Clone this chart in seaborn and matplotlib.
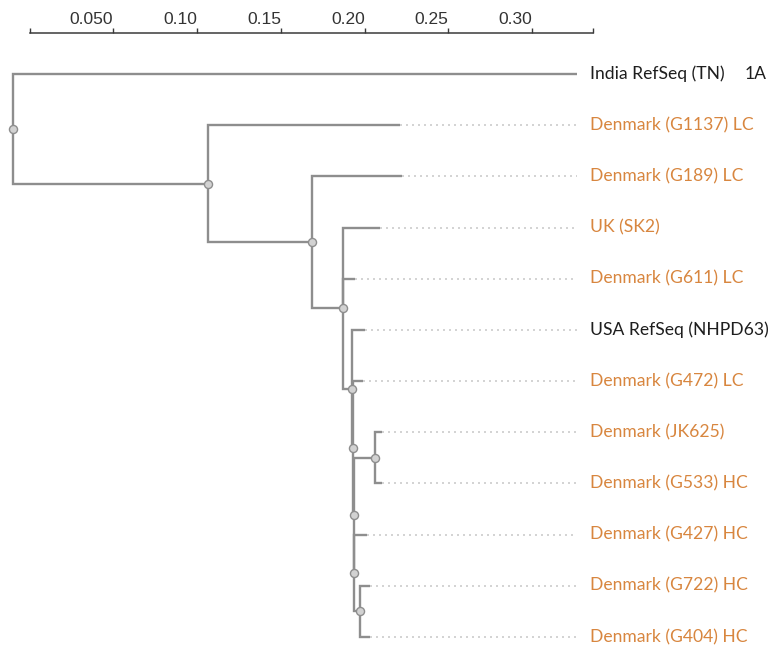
import matplotlib
matplotlib.use("Agg")
import matplotlib.pyplot as plt
import numpy as np
import pandas as pd
import seaborn as sns

# ---- tree data -------------------------------------------------------------
# Leaf order, top to bottom
leaves = [
    "India RefSeq (TN)", "Denmark (G1137) LC", "Denmark (G189) LC", "UK (SK2)",
    "Denmark (G611) LC", "USA RefSeq (NHPD63)", "Denmark (G472) LC",
    "Denmark (JK625)", "Denmark (G533) HC", "Denmark (G427) HC",
    "Denmark (G722) HC", "Denmark (G404) HC",
]
reference_seqs = ["India RefSeq (TN)", "USA RefSeq (NHPD63)"]
leaf_tags = {"India RefSeq (TN)": "1A"}

# Edges of the tree: parent -> child with branch length (substitutions/site)
parents = ["root", "root", "n2", "n2", "n3", "n3", "n4", "n4", "n4", "n5", "n5",
           "n6", "n6", "n8", "n8", "n7", "n7", "n9", "n9", "n10", "n10"]
children = ["India RefSeq (TN)", "n2", "Denmark (G1137) LC", "n3",
            "Denmark (G189) LC", "n4", "UK (SK2)", "Denmark (G611) LC", "n5",
            "USA RefSeq (NHPD63)", "n6", "Denmark (G472) LC", "n8", "n7", "n9",
            "Denmark (JK625)", "Denmark (G533) HC", "Denmark (G427) HC", "n10",
            "Denmark (G722) HC", "Denmark (G404) HC"]
lengths = [0.3362, 0.1164, 0.1144, 0.0617, 0.0537, 0.0189, 0.0216, 0.0070, 0.0050,
           0.0079, 0.0006, 0.0063, 0.0004, 0.0130, 0.0004, 0.0040, 0.0040, 0.0076,
           0.0032, 0.0064, 0.0064]

# Scale bar ticks
scale_ticks = [0.05, 0.10, 0.15, 0.20, 0.25, 0.30]
scale_labels = ["0.050", "0.10", "0.15", "0.20", "0.25", "0.30"]

# ---- style -----------------------------------------------------------------
sns.set_theme(style="white")
plt.rcParams["font.family"] = ["Lato", "DejaVu Sans"]

BRANCH = "#8e8e8e"
GUIDE = "#cccccc"
NODE_FILL = "#d2d2d2"
ORANGE = "#d8863f"
DARK = "#1e1e1e"
LABEL_SIZE = 12.6

W, H = 778, 652
fig = plt.figure(figsize=(W / 100, H / 100), dpi=100)

# layout (pixels -> data units)
units_per_px = 0.05 / 83.8
scale_x0_px = 29.5
scale_y_px = 33.3
row0_px, row_step_px = 74.0, 51.18
root_px = 13.3
label_gap_px = 13.0
tag_px = 745.0

ax = fig.add_axes([0, 0, 1, 1])

# ---- layout of the tree --------------------------------------------------------
kids = {}
for p, c, L in zip(parents, children, lengths):
    kids.setdefault(p, []).append((c, L))

root_x = (root_px - scale_x0_px) * units_per_px
xpos = {"root": root_x}
ypos = {}


def place(node):
    for c, L in kids.get(node, []):
        xpos[c] = xpos[node] + L
        place(c)
    if node in kids:
        ys = [ypos[c] for c, _ in kids[node]]
        ypos[node] = (min(ys) + max(ys)) / 2.0
    else:
        ypos[node] = leaves.index(node)


place("root")
tip_max = max(xpos[l] for l in leaves)

# branches as elbows: parent node -> down/up -> right to child
for node, ch in kids.items():
    for c, _ in ch:
        ax.plot([xpos[node], xpos[node], xpos[c]], [ypos[node], ypos[c], ypos[c]],
                color=BRANCH, lw=1.7, solid_joinstyle="miter",
                solid_capstyle="butt", zorder=2)

# dotted guides from tips to labels
for leaf in leaves:
    if xpos[leaf] < tip_max - 1e-9:
        ax.plot([xpos[leaf], tip_max], [ypos[leaf], ypos[leaf]], color=GUIDE,
                lw=1.2, dashes=(1.2, 2.4), zorder=1)

# internal node markers
nodes_df = pd.DataFrame({
    "x": [xpos[n] for n in kids],
    "y": [ypos[n] for n in kids],
})
sns.scatterplot(data=nodes_df, x="x", y="y", ax=ax, s=34, color=NODE_FILL,
                edgecolor=BRANCH, linewidth=1.0, zorder=3, legend=False)

# leaf labels
label_x = tip_max + label_gap_px * units_per_px
for leaf in leaves:
    col = DARK if leaf in reference_seqs else ORANGE
    ax.text(label_x, ypos[leaf], leaf, color=col, fontsize=LABEL_SIZE,
            va="center", ha="left")
    if leaf in leaf_tags:
        ax.text((tag_px - scale_x0_px) * units_per_px, ypos[leaf],
                leaf_tags[leaf], color=DARK, fontsize=LABEL_SIZE,
                va="center", ha="left")

ax.set_xlim(-scale_x0_px * units_per_px, (W - scale_x0_px) * units_per_px)
ax.set_ylim((H - row0_px) / row_step_px, -row0_px / row_step_px)
ax.axis("off")

# ---- scale bar on top -----------------------------------------------------------
scale_len = tip_max - root_x
rx = fig.add_axes([scale_x0_px / W, 1 - scale_y_px / H - 0.0005,
                   scale_len / units_per_px / W, 0.0005])
rx.patch.set_visible(False)
rx.set_xlim(0, scale_len)
rx.set_ylim(0, 1)
for side in ["left", "right", "bottom"]:
    rx.spines[side].set_visible(False)
rx.spines["top"].set_visible(True)
rx.spines["top"].set_color("#3a3a3a")
rx.spines["top"].set_linewidth(1.1)
rx.set_yticks([])
rx.set_xticks([0] + scale_ticks + [scale_len])
rx.set_xticklabels([""] + scale_labels + [""])
rx.tick_params(axis="x", top=True, labeltop=True, bottom=False, labelbottom=False,
               direction="out", length=3.6, width=1.0, color="#3a3a3a", pad=0.6,
               labelsize=12.5, labelcolor="#333333")
for lbl in rx.get_xticklabels():
    lbl.set_ha("right")
    lbl.set_fontfamily(["Liberation Sans", "DejaVu Sans"])

fig.savefig("out.png", dpi=100)
